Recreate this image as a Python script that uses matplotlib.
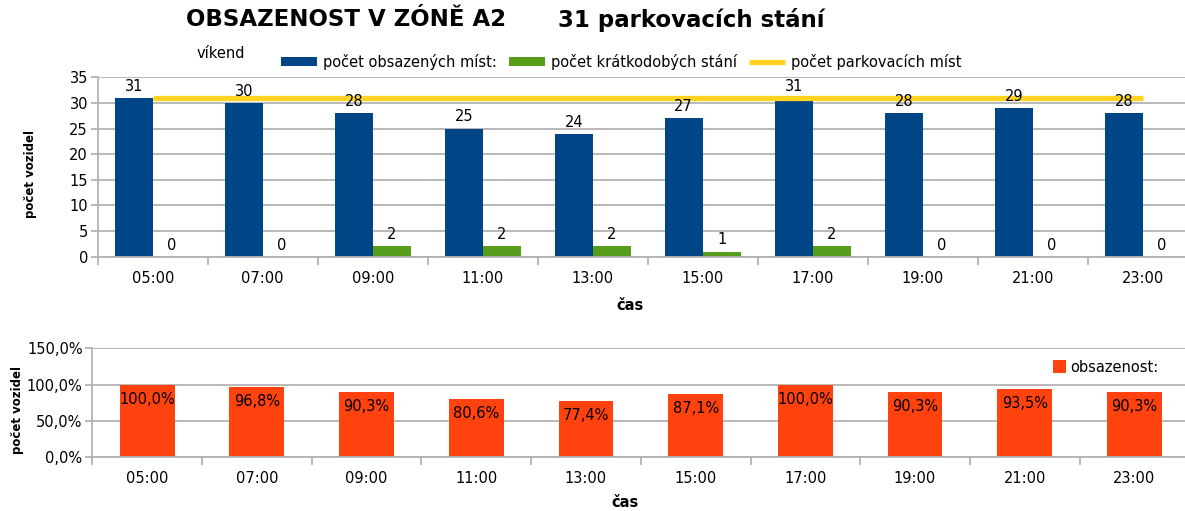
import matplotlib
matplotlib.use("Agg")
import matplotlib.pyplot as plt
import numpy as np

plt.rcParams['font.family'] = ['DejaVu Sans']

# ---- data ----
casy = ["05:00", "07:00", "09:00", "11:00", "13:00", "15:00", "17:00", "19:00", "21:00", "23:00"]
obsazena_mista = [31, 30, 28, 25, 24, 27, 31, 28, 29, 28]
kratkodoba_stani = [0, 0, 2, 2, 2, 1, 2, 0, 0, 0]
parkovaci_mista = [31, 31, 31, 31, 31, 31, 31, 31, 31, 31]
obsazenost_pct = [100.0, 96.8, 90.3, 80.6, 77.4, 87.1, 100.0, 90.3, 93.5, 90.3]
y1_ticks = [0, 5, 10, 15, 20, 25, 30, 35]
y2_ticks = [0, 50, 100, 150]

BLUE = "#004586"
GREEN = "#579D1C"
YELLOW = "#FFD320"
ORANGE = "#FF420E"
GRID = "#b3b3b3"
FS = 10.5

W, H = 1185, 511
fig = plt.figure(figsize=(W / 100, H / 100), dpi=100)

x = np.arange(len(casy))

def style_axes(ax):
    for s in ["top", "right"]:
        ax.spines[s].set_visible(False)
    for s in ["left", "bottom"]:
        ax.spines[s].set_color(GRID)
        ax.spines[s].set_linewidth(1.3)
    ax.yaxis.grid(True, color=GRID, linewidth=1.3)
    ax.set_axisbelow(True)
    ax.set_xticks(x)
    ax.set_xticklabels(casy, fontsize=FS)
    ax.set_xticks(np.arange(len(casy) + 1) - 0.5, minor=True)
    ax.tick_params(axis="x", which="major", length=0, pad=10)
    ax.tick_params(axis="x", which="minor", length=6, width=1.3, color=GRID, direction="out")
    ax.tick_params(axis="y", length=5, width=1.3, color=GRID, direction="out", labelsize=FS, pad=2)
    ax.set_xlim(-0.5, len(casy) - 0.5)

# ---- top chart ----
ax1 = fig.add_axes([97.7 / W, (H - 256.7) / H, 1100 / W, 179.4 / H])
bw = 0.345
b1 = ax1.bar(x - bw / 2, obsazena_mista, width=bw, color=BLUE, label="počet obsazených míst:", zorder=2)
b2 = ax1.bar(x + bw / 2, kratkodoba_stani, width=bw, color=GREEN, label="počet krátkodobých stání", zorder=2)
l1, = ax1.plot(x, parkovaci_mista, color=YELLOW, linewidth=3.8, solid_capstyle="butt",
               label="počet parkovacích míst", zorder=3)
ax1.set_ylim(0, 35)
ax1.set_yticks(y1_ticks)
style_axes(ax1)
for rect, v in zip(b1, obsazena_mista):
    ax1.annotate(str(v), (rect.get_x() + rect.get_width() / 2, v), xytext=(0, 3),
                 textcoords="offset points", ha="center", va="bottom", fontsize=FS, zorder=5)
for rect, v in zip(b2, kratkodoba_stani):
    ax1.annotate(str(v), (rect.get_x() + rect.get_width() / 2, v), xytext=(0, 3),
                 textcoords="offset points", ha="center", va="bottom", fontsize=FS, zorder=5)
ax1.set_xlabel("čas", fontsize=FS, fontweight="bold")
ax1.xaxis.set_label_coords((630 - 97.7) / 1100, -(305 - 256.7) / 179.4)
ax1.xaxis.label.set_va("center")
fig.text(31 / W, 1 - 174 / H, "počet vozidel", rotation=90, ha="center", va="center",
         fontsize=8.5, fontweight="bold")

leg1 = fig.legend(handles=[b1, b2, l1], ncol=3, loc="center left",
                  bbox_to_anchor=(281 / W, 1 - 62 / H), frameon=False, fontsize=FS,
                  handlelength=2.5, handleheight=0.55, handletextpad=0.4,
                  columnspacing=0.8, borderaxespad=0, borderpad=0)

fig.text(186 / W, 1 - 20 / H, "OBSAZENOST V ZÓNĚ A2", fontsize=16.5, fontweight="bold",
         ha="left", va="center")
fig.text(558 / W, 1 - 20 / H, "31 parkovacích stání", fontsize=16.5, fontweight="bold",
         ha="left", va="center")
fig.text(197 / W, 1 - 53 / H, "víkend", fontsize=FS, ha="left", va="center")

# ---- bottom chart ----
ax2 = fig.add_axes([92.3 / W, (H - 457.3) / H, 1097 / W, 108.9 / H])
b3 = ax2.bar(x, obsazenost_pct, width=0.5, color=ORANGE, label="obsazenost:", zorder=2)
ax2.set_ylim(0, 150)
ax2.set_yticks(y2_ticks)
ax2.set_yticklabels([f"{t:.1f}%".replace(".", ",") for t in y2_ticks])
style_axes(ax2)
for rect, v in zip(b3, obsazenost_pct):
    ax2.annotate(f"{v:.1f}%".replace(".", ","), (rect.get_x() + rect.get_width() / 2, v),
                 xytext=(0, -5), textcoords="offset points", ha="center", va="top",
                 fontsize=FS, zorder=5)
ax2.set_xlabel("čas", fontsize=FS, fontweight="bold")
ax2.xaxis.set_label_coords((625 - 92.3) / 1097, -(502 - 457.3) / 108.9)
ax2.xaxis.label.set_va("center")
fig.text(18 / W, 1 - 410 / H, "počet vozidel", rotation=90, ha="center", va="center",
         fontsize=8.5, fontweight="bold")
fig.legend(handles=[b3], loc="center left", bbox_to_anchor=(1053 / W, 1 - 367 / H),
           frameon=False, fontsize=FS, handlelength=0.9, handleheight=0.9,
           handletextpad=0.3, borderaxespad=0, borderpad=0)

fig.savefig("out.png", dpi=100)
